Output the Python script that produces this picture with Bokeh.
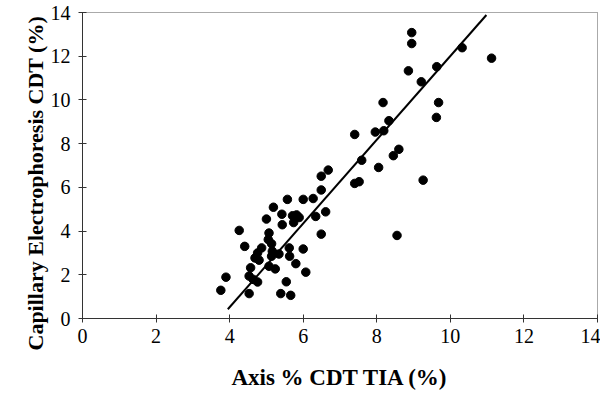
from bokeh.plotting import figure
from bokeh.embed import file_html
from bokeh.resources import INLINE
from bokeh.models import FixedTicker, Range1d, Title

x_tia = [8.95, 8.95, 10.32, 11.12, 8.86, 9.63, 9.21, 8.17, 9.68, 9.62, 8.33, 7.40, 7.96, 8.19,
         8.60, 8.45, 7.59, 8.05, 7.40, 7.52, 9.26, 6.68, 6.49, 6.49, 5.19, 5.57, 6.00, 6.27,
         5.00, 5.42, 5.43, 5.71, 5.82, 5.89, 5.74, 6.34, 6.61, 6.49, 4.26, 5.07, 4.41, 5.14,
         5.05, 4.87, 4.76, 4.69, 4.80, 5.16, 5.14, 5.34, 5.62, 5.63, 6.00, 5.07, 5.24, 4.57,
         5.80, 6.07, 4.53, 4.64, 4.76, 3.90, 3.76, 4.53, 5.39, 5.66, 5.54, 8.55]
y_ce = [13.08, 12.58, 12.39, 11.91, 11.33, 11.52, 10.83, 9.88, 9.88, 9.20, 9.05, 8.42, 8.53, 8.59,
        7.74, 7.45, 7.24, 6.91, 6.18, 6.26, 6.33, 6.79, 6.51, 5.88, 5.09, 5.45, 5.45, 5.49,
        4.55, 4.77, 4.29, 4.70, 4.74, 4.62, 4.39, 4.67, 4.88, 3.86, 4.03, 3.91, 3.30, 3.42,
        3.61, 3.23, 3.00, 2.77, 2.67, 3.08, 2.85, 2.95, 3.23, 2.85, 3.18, 2.39, 2.27, 2.32,
        2.51, 2.12, 1.94, 1.79, 1.67, 1.89, 1.29, 1.14, 1.14, 1.06, 1.68, 3.80]

fit_x = [3.95, 10.98]
fit_slope = 1.915
fit_intercept = -7.14
fit_y = [fit_slope * v + fit_intercept for v in fit_x]

ticks = [0, 2, 4, 6, 8, 10, 12, 14]
x_title = "Axis % CDT TIA (%)"
y_title = "Capillary Electrophoresis CDT (%)"
serif = "Liberation Serif"

p = figure(width=600, height=397, output_backend="svg", toolbar_location=None,
           x_range=Range1d(0, 14), y_range=Range1d(0, 14),
           min_border_left=82, min_border_right=3, min_border_top=12, min_border_bottom=79)

p.line(fit_x, fit_y, line_color="black", line_width=2)
p.scatter(x_tia, y_ce, size=8.5, color="black")

p.grid.visible = False
p.outline_line_color = "#555555"
p.outline_line_dash = "1 1"
p.outline_line_width = 1

for ax in (p.xaxis[0], p.yaxis[0]):
    ax.ticker = FixedTicker(ticks=ticks)
    ax.minor_tick_line_color = None
    ax.major_tick_in = 4
    ax.major_tick_out = 4
    ax.axis_line_color = "#333333"
    ax.major_tick_line_color = "#333333"
    ax.major_label_text_font = serif
    ax.major_label_text_font_size = "20px"
    ax.major_label_text_color = "black"
    ax.axis_label_text_font = serif
    ax.axis_label_text_font_size = "23px"
    ax.axis_label_text_font_style = "bold"
    ax.axis_label_text_color = "black"

p.xaxis.axis_label = x_title
p.xaxis.major_label_standoff = 6
p.xaxis.axis_label_standoff = 19
p.yaxis.major_label_standoff = 8

yt = Title(text=y_title, align="left", offset=-32, text_font=serif,
           text_font_size="22px", text_font_style="bold", text_color="black",
           standoff=0)
p.add_layout(yt, "left")

open("out.html", "w").write(file_html(p, INLINE))
